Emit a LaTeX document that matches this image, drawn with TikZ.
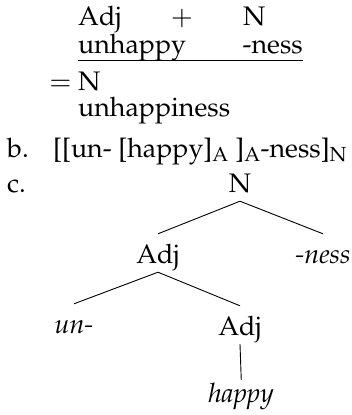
\documentclass[tikz,border=0pt]{standalone}
\usepackage[T1]{fontenc}
\usepackage{mathpazo}
\begin{document}
\begin{tikzpicture}[x=1pt,y=-1pt,
  txt/.style={inner sep=0pt, anchor=base west, font=\fontsize{26.8pt}{32pt}\selectfont},
  ctr/.style={inner sep=0pt, anchor=base, font=\fontsize{26.8pt}{32pt}\selectfont},
  tnode/.style={ctr, text height=25pt, text depth=5pt, inner ysep=4pt},
  branch/.style={line width=0.9pt}]
\useasboundingbox (0,0) rectangle (352,415);
% derivation a
\node[txt] (adj1) at (78,25) {Adj};
\node[ctr] (plus) at (182,25) {$+$};
\node[txt] (n1) at (243,25) {N};
\node[txt] (unhappy) at (78,53) {unhappy};
\node[txt,anchor=base east] (ness1) at (303,53) {-ness};
\draw[branch] ([yshift=-7pt]unhappy.base west) -- ([yshift=-7pt]ness1.base east);
\node[ctr] (eq) at (60.5,90) {$=$};
\node[txt] (n2) at (78,90) {N};
\node[txt] (unhappiness) at (78,116) {unhappiness};
% b
\node[txt] (lb) at (7,157) {b.};
\node[txt] (brack) at (53,157) {[[un- [happy]\textsubscript{A} ]\textsubscript{A}-ness]\textsubscript{N}};
% c
\node[txt] (lc) at (7,192) {c.};
\node[tnode] (root) at (240,192) {N};
\node[tnode] (adjA) at (158,263) {Adj};
\node[tnode] (nessB) at (323,263) {\itshape -ness};
\node[tnode] (un) at (74,333) {\itshape un-};
\node[tnode] (adjB) at (240,335) {Adj};
\node[tnode] (happy) at (241,402) {\itshape happy};
\draw[branch] (root.south) -- (adjA.north);
\draw[branch] (root.south) -- (nessB.north);
\draw[branch] (adjA.south) -- (un.north);
\draw[branch] (adjA.south) -- (adjB.north);
\draw[branch,shorten >=-7pt] (adjB.south) -- (happy.north);
\end{tikzpicture}
\end{document}
